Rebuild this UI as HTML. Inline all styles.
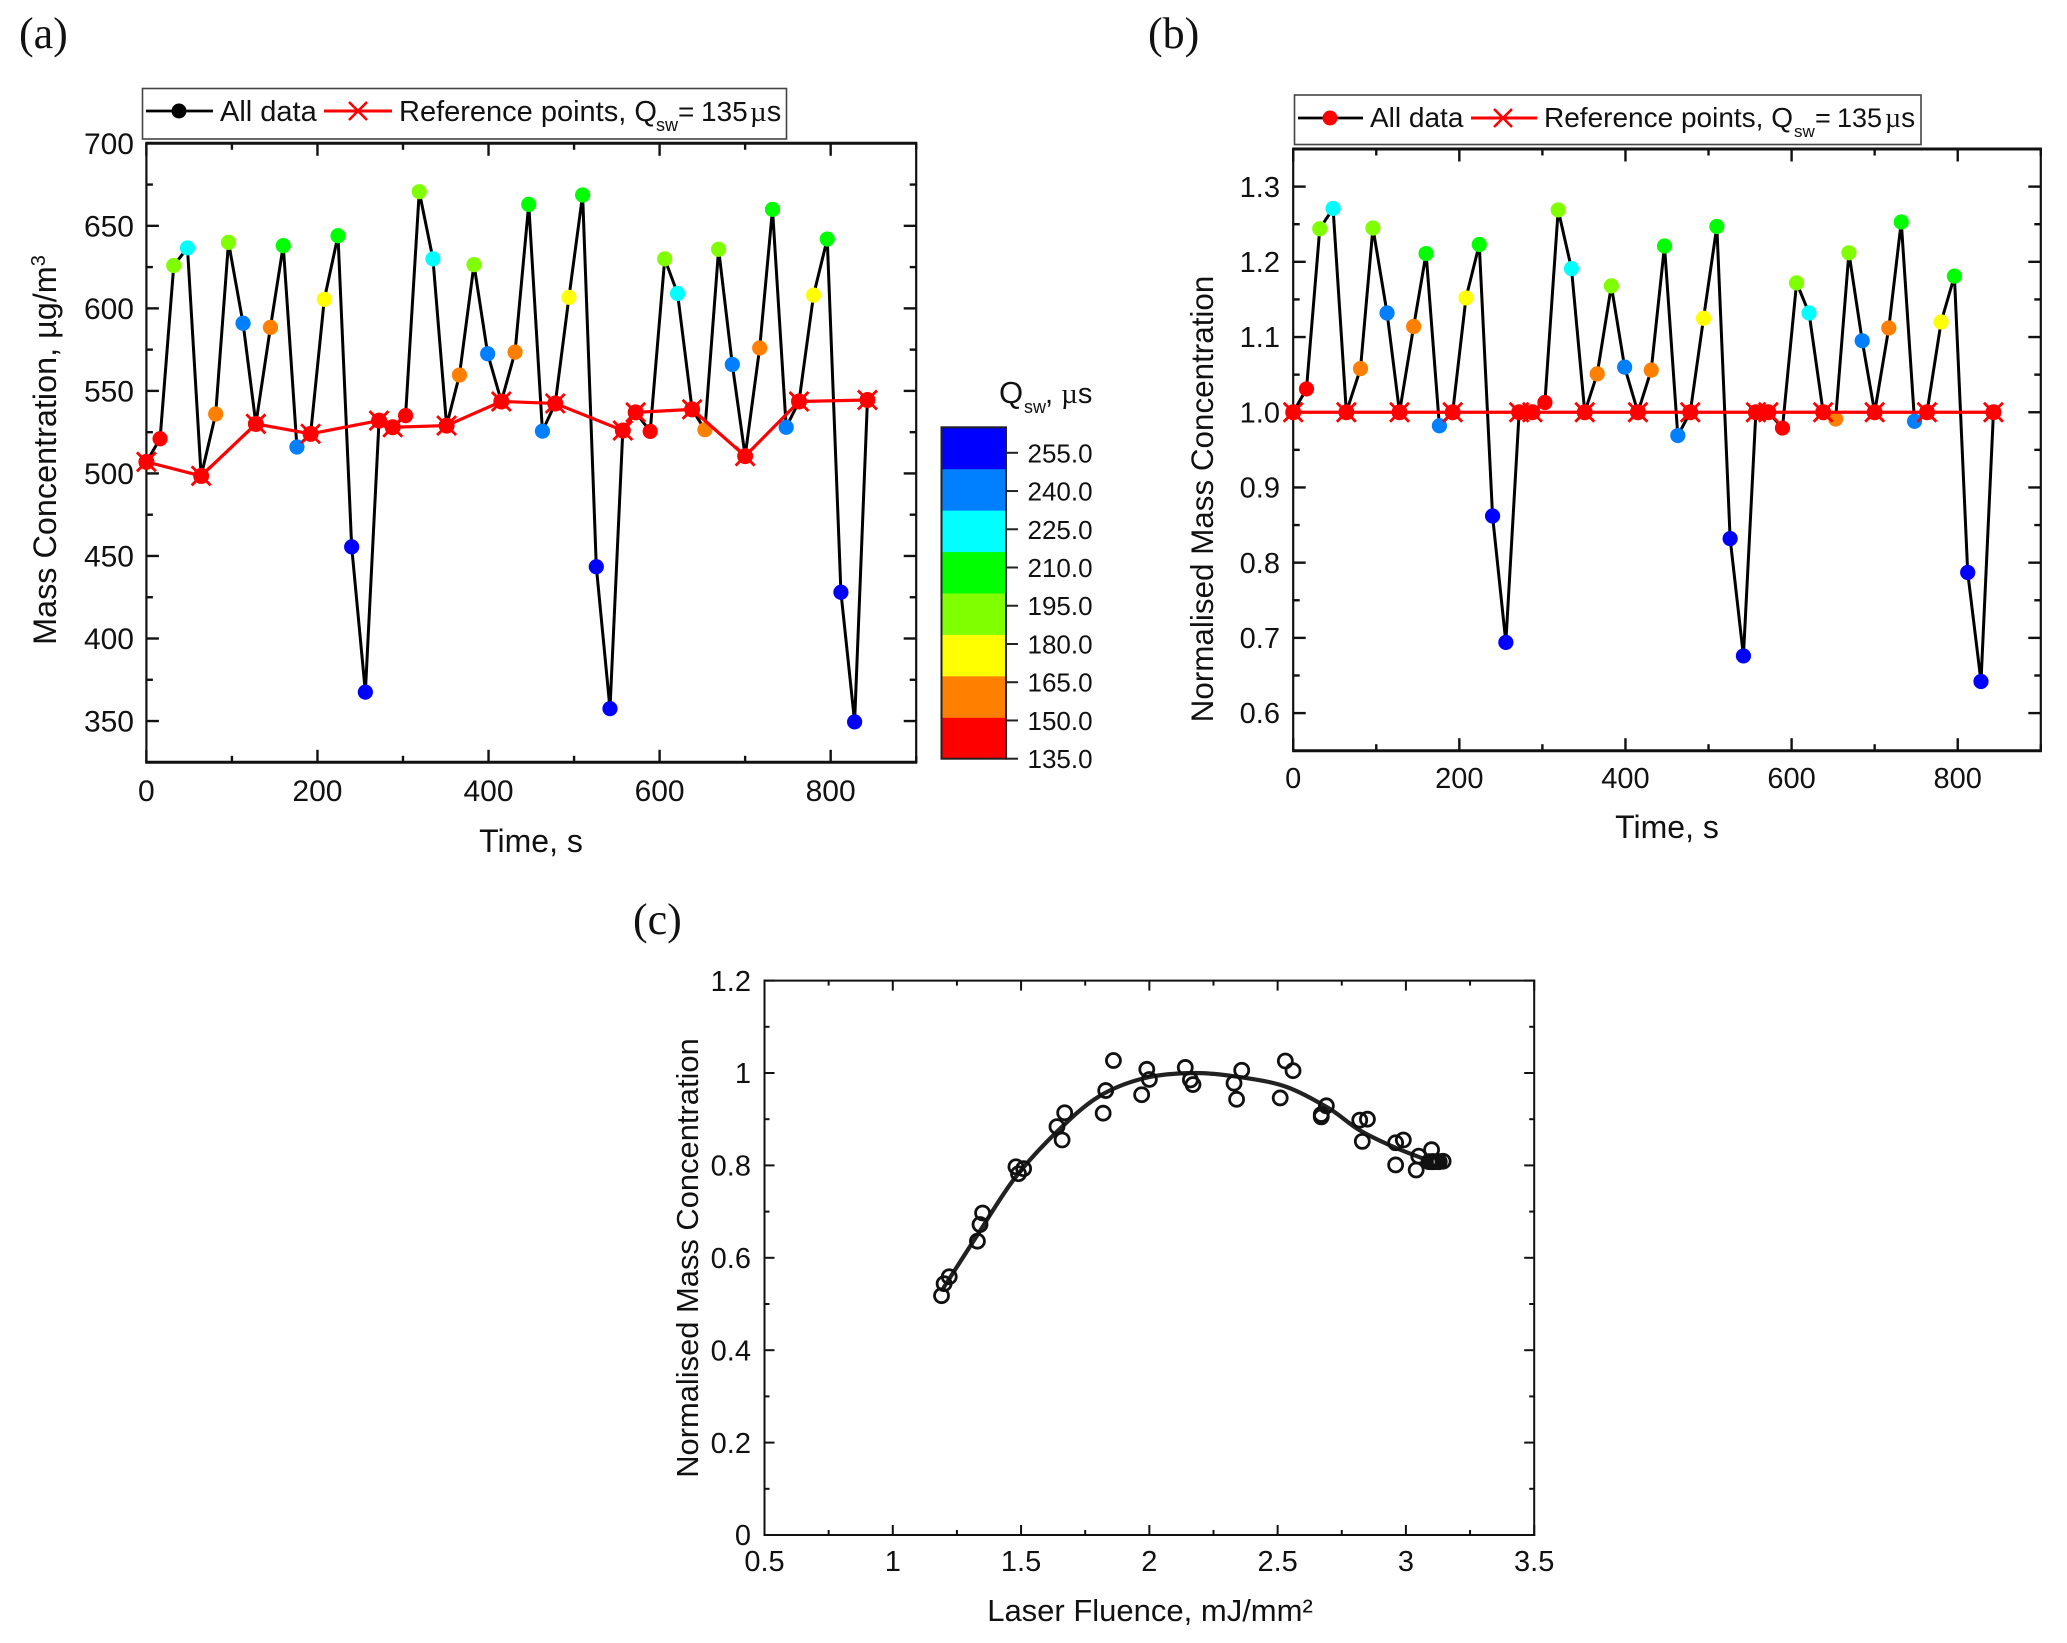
<!DOCTYPE html>
<html lang="en">
<head>
<meta charset="utf-8">
<title>Mass concentration charts</title>
<style>
html,body{margin:0;padding:0;background:#fff;}
svg{display:block;}
text{font-family:"Liberation Sans",sans-serif;fill:#111;}
.serif{font-family:"Liberation Serif",serif;}
</style>
</head>
<body>
<svg id="figure" xmlns="http://www.w3.org/2000/svg" width="2067" height="1643" viewBox="0 0 2067 1643">
  <rect x="0" y="0" width="2067" height="1643" fill="#fff"/>
  <text class="serif" x="19" y="48" font-size="44">(a)</text>
  <text class="serif" x="1148" y="48" font-size="44">(b)</text>
  <text class="serif" x="633" y="934" font-size="44">(c)</text>

  <g id="chart-a"></g>
  <g id="chart-b"></g>
  <g id="chart-c"></g>
  <g id="colorbar"></g>

  <text transform="translate(56,450) rotate(-90)" text-anchor="middle" font-size="32.4">Mass Concentration, µg/m<tspan dy="-11" font-size="20">3</tspan></text>
  <text x="531" y="852" text-anchor="middle" font-size="32">Time, s</text>
  <text transform="translate(1213,499) rotate(-90)" text-anchor="middle" font-size="31.4">Normalised Mass Concentration</text>
  <text x="1667" y="838" text-anchor="middle" font-size="32">Time, s</text>
  <text transform="translate(698,1258) rotate(-90)" text-anchor="middle" font-size="30.9">Normalised Mass Concentration</text>
  <text x="1150" y="1621" text-anchor="middle" font-size="31">Laser Fluence, mJ/mm²</text>

  <g>
    <text x="999" y="403" font-size="31">Q</text>
    <text x="1024" y="413" font-size="18">sw</text>
    <text x="1045" y="403" font-size="29">, <tspan class="serif">µ</tspan>s</text>
  </g>

  <g>
    <rect x="142.5" y="88.5" width="644" height="50.5" fill="#fff" stroke="#444" stroke-width="1.6"/>
    <line x1="146" y1="111" x2="213" y2="111" stroke="#000" stroke-width="2.8"/>
    <circle cx="179" cy="111" r="7.5" fill="#000"/>
    <text x="220" y="121" font-size="29">All data</text>
    <line x1="324" y1="111" x2="392" y2="111" stroke="#f00" stroke-width="3"/>
    <path d="M349 102L367 120M367 102L349 120" stroke="#f00" stroke-width="2.6" fill="none"/>
    <text x="399" y="121" font-size="29">Reference points, Q</text>
    <text x="656" y="131" font-size="18">sw</text>
    <text x="678" y="121" font-size="28">=</text>
    <text x="701" y="121" font-size="28">135</text>
    <text x="750" y="121" font-size="29"><tspan class="serif">µ</tspan>s</text>
  </g>

  <g>
    <rect x="1294.5" y="95" width="626.5" height="49.5" fill="#fff" stroke="#444" stroke-width="1.6"/>
    <line x1="1298" y1="118" x2="1363" y2="118" stroke="#000" stroke-width="2.8"/>
    <circle cx="1330" cy="118" r="7.5" fill="#f00"/>
    <text x="1370" y="127" font-size="28">All data</text>
    <line x1="1471" y1="118" x2="1537" y2="118" stroke="#f00" stroke-width="3"/>
    <path d="M1494 109L1512 127M1512 109L1494 127" stroke="#f00" stroke-width="2.6" fill="none"/>
    <text x="1544" y="127" font-size="28">Reference points, Q</text>
    <text x="1794" y="137" font-size="17">sw</text>
    <text x="1815" y="127" font-size="27">=</text>
    <text x="1837" y="127" font-size="27">135</text>
    <text x="1885" y="127" font-size="28"><tspan class="serif">µ</tspan>s</text>
  </g>
</svg>
<script>
// ---- Shared series for panels (a) and (b) ----
const timeSeconds = [0,16,32,48,64,81,96,113,128,145,160,176,192,208,224,240,256,272,288,303,319,335,351,366,383,399,415,431,447,463,478,494,510,526,542,557,572,589,606,621,638,653,669,685,700,717,732,748,763,780,796,812,828,843];
const qswValues = [135,150,195,225,135,165,195,240,135,165,210,240,135,180,210,255,255,135,135,150,195,225,135,165,195,240,135,165,210,240,135,180,210,255,255,135,135,150,195,225,135,165,195,240,135,165,210,240,135,180,210,255,255,135];
const massConcentration = [507,521,626,636.6,498.5,536,640,591,530,588.5,638,516,524,605.5,644,455.5,367.5,532,528,535,670.7,630,529,559.6,626.5,572.5,543.6,573.5,663,525.6,542.4,606.7,668.7,443.5,357.5,526,537,525.5,630,609,538.8,526.5,635.8,566,510.5,576,660,528,543.6,608,642,428,349.5,544.5];
const normalisedConcentration = [1,1.031,1.244,1.271,1,1.058,1.245,1.132,1,1.114,1.211,0.982,1,1.152,1.223,0.862,0.694,1,1,1.013,1.269,1.191,1,1.051,1.168,1.06,1,1.056,1.221,0.969,1,1.125,1.247,0.832,0.676,1,1,0.979,1.172,1.132,1,0.991,1.212,1.095,1,1.112,1.253,0.988,1,1.12,1.181,0.787,0.642,1];
const referenceQsw = 135;

// ---- Tick labels ----
const timeTicks = [0,200,400,600,800];
const massTicks = [350,400,450,500,550,600,650,700];
const normTicks = ['0.6','0.7','0.8','0.9','1.0','1.1','1.2','1.3'];
const fluenceTicks = ['0.5','1','1.5','2','2.5','3','3.5'];
const normCTicks = ['0','0.2','0.4','0.6','0.8','1','1.2'];

// ---- Colour scale ----
const colorbarBins = ['#ff0000','#ff8000','#ffff00','#80ff00','#00ff00','#00ffff','#0080ff','#0000ff'];
const colorbarTicks = ['135.0','150.0','165.0','180.0','195.0','210.0','225.0','240.0','255.0'];
const colorbarMin = 135;
const colorbarMax = 265;

// ---- Panel (c) series ----
const fluence = [1.19,1.20,1.22,1.33,1.34,1.35,1.48,1.49,1.51,1.64,1.66,1.67,1.82,1.83,1.86,1.97,1.99,2.00,2.14,2.16,2.17,2.33,2.34,2.36,2.51,2.53,2.56,2.67,2.67,2.69,2.82,2.83,2.85,2.96,2.96,2.99,3.04,3.05,3.10,3.09,3.10,3.105,3.11,3.12,3.13,3.145];
const concentrationC = [0.518,0.544,0.559,0.636,0.672,0.697,0.797,0.782,0.793,0.884,0.855,0.914,0.913,0.962,1.027,0.953,1.008,0.986,1.012,0.985,0.975,0.978,0.943,1.006,0.946,1.026,1.005,0.905,0.91,0.929,0.898,0.852,0.90,0.849,0.801,0.855,0.79,0.82,0.834,0.808,0.808,0.808,0.808,0.808,0.808,0.809];
const fitFluence = [1.2,1.326,1.475,1.64,1.803,1.982,2.177,2.355,2.534,2.698,2.817,2.952,3.10];
const fitConcentration = [0.537,0.646,0.772,0.873,0.949,0.989,1.0,0.991,0.97,0.924,0.877,0.84,0.808];

const SVGNS = 'http://www.w3.org/2000/svg';
function make(tag, attrs, parent) {
  const node = document.createElementNS(SVGNS, tag);
  for (const key in attrs) { node.setAttribute(key, attrs[key]); }
  parent.appendChild(node);
  return node;
}
function scale(d0, d1, r0, r1) {
  return function (v) { return r0 + (v - d0) * (r1 - r0) / (d1 - d0); };
}
function colorFor(q) {
  const width = (colorbarMax - colorbarMin) / colorbarBins.length;
  const bin = Math.min(colorbarBins.length - 1, Math.floor((q - colorbarMin) / width));
  return colorbarBins[bin];
}

function drawAxes(parent, o) {
  const box = { l: o.x(o.xDomain[0]), r: o.x(o.xDomain[1]), t: o.y(o.yDomain[1]), b: o.y(o.yDomain[0]) };
  for (let v = o.xDomain[0], i = 0; v <= o.xDomain[1] + 1e-9; i++, v = o.xDomain[0] + i * o.xMinor) {
    const isMajor = o.xMajorValues.some(function (m) { return Math.abs(m - v) < 1e-6; });
    const len = isMajor ? o.major : o.minor;
    const px = o.x(v);
    const bottomTick = make('line', { x1: px, x2: px, y1: box.b, y2: box.b - len, stroke: '#111', 'stroke-width': o.tickW }, parent);
    
    
    const topTick = make('line', { x1: px, x2: px, y1: box.t, y2: box.t + len, stroke: '#111', 'stroke-width': o.tickW }, parent);
    
    
  }
  for (let v = o.yDomain[0], i = 0; v <= o.yDomain[1] + 1e-9; i++, v = o.yDomain[0] + i * o.yMinor) {
    const isMajor = o.yMajorValues.some(function (m) { return Math.abs(m - v) < 1e-6; });
    const len = isMajor ? o.major : o.minor;
    const py = o.y(v);
    const leftTick = make('line', { x1: box.l, x2: box.l + len, y1: py, y2: py, stroke: '#111', 'stroke-width': o.tickW }, parent);
    
    
    const rightTick = make('line', { x1: box.r, x2: box.r - len, y1: py, y2: py, stroke: '#111', 'stroke-width': o.tickW }, parent);
    
    
  }
  o.xLabels.forEach(function (label, i) {
    const t = make('text', { x: o.x(o.xMajorValues[i]), y: o.xLabelY, 'text-anchor': 'middle', 'font-size': o.fontSize }, parent);
    
    
    t.textContent = label;
  });
  o.yLabels.forEach(function (label, i) {
    const t = make('text', { x: o.yLabelX, y: o.y(o.yMajorValues[i]) + o.fontSize * 0.35, 'text-anchor': 'end', 'font-size': o.fontSize }, parent);
    
    
    t.textContent = label;
  });
  const frameLeft = make('line', { x1: box.l, x2: box.l, y1: box.t - 1, y2: box.b + 1, stroke: '#111', 'stroke-width': o.sideW }, parent);
  
  
  const frameRight = make('line', { x1: box.r, x2: box.r, y1: box.t - 1, y2: box.b + 1, stroke: '#111', 'stroke-width': o.sideW }, parent);
  
  
  const frameTop = make('line', { x1: box.l - 1, x2: box.r + 1, y1: box.t, y2: box.t, stroke: '#111', 'stroke-width': o.capW }, parent);
  
  
  const frameBottom = make('line', { x1: box.l - 1, x2: box.r + 1, y1: box.b, y2: box.b, stroke: '#111', 'stroke-width': o.capW }, parent);
  
  
}

function drawTimeSeries(parent, values, x, y) {
  const allPts = timeSeconds.map(function (t, i) { return x(t) + ',' + y(values[i]); }).join(' ');
  const blackLine = make('polyline', { points: allPts, fill: 'none', stroke: '#000', 'stroke-width': 3, 'stroke-linejoin': 'round' }, parent);
  
  
  timeSeconds.forEach(function (t, i) {
    const dot = make('circle', { cx: x(t), cy: y(values[i]), r: 7.6, fill: colorFor(qswValues[i]) }, parent);
    
    
  });
  const refIdx = timeSeconds.map(function (t, i) { return i; }).filter(function (i) { return qswValues[i] === referenceQsw; });
  const refPts = refIdx.map(function (i) { return x(timeSeconds[i]) + ',' + y(values[i]); }).join(' ');
  const redLine = make('polyline', { points: refPts, fill: 'none', stroke: '#f00', 'stroke-width': 3.2, 'stroke-linejoin': 'round' }, parent);
  
  
  refIdx.forEach(function (i) {
    const cx = x(timeSeconds[i]);
    const cy = y(values[i]);
    const blob = make('circle', { cx: cx, cy: cy, r: 8, fill: '#f00' }, parent);
    
    
    const d = 'M' + (cx - 9.5) + ' ' + (cy - 9.5) + 'L' + (cx + 9.5) + ' ' + (cy + 9.5) + 'M' + (cx + 9.5) + ' ' + (cy - 9.5) + 'L' + (cx - 9.5) + ' ' + (cy + 9.5);
    const cross = make('path', { d: d, stroke: '#f00', 'stroke-width': 2.8, fill: 'none' }, parent);
    
    
  });
}

// Panel (a)
(function () {
  const g = document.getElementById('chart-a');
  const x = scale(0, 900, 146.4, 916.2);
  const y = scale(325, 700, 762.3, 143.3);
  drawAxes(g, { x: x, y: y, xDomain: [0, 900], yDomain: [325, 700], xMinor: 100, yMinor: 25,
    xMajorValues: timeTicks, yMajorValues: massTicks, xLabels: timeTicks, yLabels: massTicks,
    major: 12.5, minor: 6.5, tickW: 2.4, sideW: 2.2, capW: 3, fontSize: 30, xLabelY: 801, yLabelX: 134 });
  drawTimeSeries(g, massConcentration, x, y);
})();

// Panel (b)
(function () {
  const g = document.getElementById('chart-b');
  const x = scale(0, 900, 1293.2, 2040.8);
  const y = scale(0.55, 1.35, 750.7, 149);
  drawAxes(g, { x: x, y: y, xDomain: [0, 900], yDomain: [0.55, 1.35], xMinor: 100, yMinor: 0.05,
    xMajorValues: timeTicks, yMajorValues: normTicks.map(Number), xLabels: timeTicks, yLabels: normTicks,
    major: 12.5, minor: 6.5, tickW: 2.4, sideW: 2.2, capW: 3, fontSize: 29, xLabelY: 788, yLabelX: 1280 });
  drawTimeSeries(g, normalisedConcentration, x, y);
})();

// Panel (c)
(function () {
  const g = document.getElementById('chart-c');
  const x = scale(0.5, 3.5, 764.5, 1534.2);
  const y = scale(0, 1.2, 1535, 980.6);
  drawAxes(g, { x: x, y: y, xDomain: [0.5, 3.5], yDomain: [0, 1.2], xMinor: 0.25, yMinor: 0.1,
    xMajorValues: fluenceTicks.map(Number), yMajorValues: normCTicks.map(Number), xLabels: fluenceTicks, yLabels: normCTicks,
    major: 10, minor: 5, tickW: 2, sideW: 2, capW: 2, fontSize: 29, xLabelY: 1571, yLabelX: 751 });
  let d = 'M' + x(fitFluence[0]) + ' ' + y(fitConcentration[0]);
  for (let i = 0; i < fitFluence.length - 1; i++) {
    const p0x = x(fitFluence[Math.max(0, i - 1)]);
    const p0y = y(fitConcentration[Math.max(0, i - 1)]);
    const p1x = x(fitFluence[i]);
    const p1y = y(fitConcentration[i]);
    const p2x = x(fitFluence[i + 1]);
    const p2y = y(fitConcentration[i + 1]);
    const p3x = x(fitFluence[Math.min(fitFluence.length - 1, i + 2)]);
    const p3y = y(fitConcentration[Math.min(fitFluence.length - 1, i + 2)]);
    d += 'C' + (p1x + (p2x - p0x) / 6) + ' ' + (p1y + (p2y - p0y) / 6) + ' ' + (p2x - (p3x - p1x) / 6) + ' ' + (p2y - (p3y - p1y) / 6) + ' ' + p2x + ' ' + p2y;
  }
  const fit = make('path', { d: d, fill: 'none', stroke: '#222', 'stroke-width': 4.2, 'stroke-linecap': 'round' }, g);
  
  
  fluence.forEach(function (f, i) {
    const ring = make('circle', { cx: x(f), cy: y(concentrationC[i]), r: 7, fill: 'none', stroke: '#111', 'stroke-width': 2.8 }, g);
    
    
  });
})();

// Colour bar
(function () {
  const g = document.getElementById('colorbar');
  const left = 941.5;
  const right = 1006;
  const top = 427.3;
  const bottom = 758.7;
  const y = scale(colorbarMin, colorbarMax, bottom, top);
  const binSize = (colorbarMax - colorbarMin) / colorbarBins.length;
  colorbarBins.forEach(function (color, i) {
    const y1 = y(colorbarMin + (i + 1) * binSize);
    const y0 = y(colorbarMin + i * binSize);
    const seg = make('rect', { x: left, y: y1, width: right - left, height: y0 - y1 + 0.5, fill: color }, g);
    
    
  });
  const border = make('rect', { x: left, y: top, width: right - left, height: bottom - top, fill: 'none', stroke: '#222', 'stroke-width': 2 }, g);
  
  
  colorbarTicks.forEach(function (label) {
    const py = y(Number(label));
    const tick = make('line', { x1: right, x2: 1018, y1: py, y2: py, stroke: '#222', 'stroke-width': 2 }, g);
    
    
    const t = make('text', { x: 1027.5, y: py + 9.5, 'font-size': 26 }, g);
    
    
    t.textContent = label;
  });
})();
</script>
</body>
</html>
